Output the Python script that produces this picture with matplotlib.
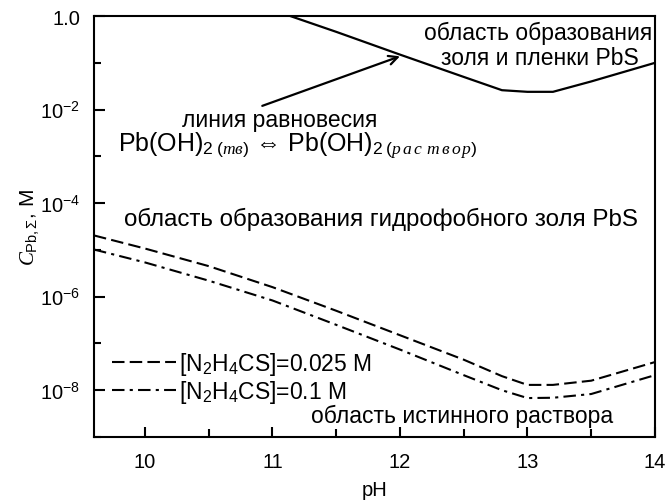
import matplotlib
matplotlib.use("Agg")
import matplotlib.pyplot as plt
from matplotlib.ticker import FixedLocator, FixedFormatter

plt.rcParams['font.family'] = ['Liberation Sans', 'DejaVu Sans']
plt.rcParams['mathtext.fontset'] = 'custom'
plt.rcParams['mathtext.rm'] = 'Liberation Sans'
plt.rcParams['mathtext.it'] = 'Liberation Serif:italic'
plt.rcParams['mathtext.bf'] = 'Liberation Sans:bold'

# pH grid and total lead concentration, M
ph = [9.6, 10.0, 10.5, 11.0, 11.5, 12.0, 12.5, 12.8, 13.0, 13.2, 13.5, 14.0]
c_tu_0025 = [2.04e-5, 1.07e-5, 4.5e-6, 1.6e-6, 5.0e-7, 1.5e-7, 4.5e-8, 2.0e-8,
             1.3e-8, 1.3e-8, 1.6e-8, 4.0e-8]
c_tu_01 = [1.02e-5, 5.4e-6, 2.2e-6, 8.3e-7, 2.5e-7, 7.4e-8, 2.1e-8, 1.0e-8,
           6.8e-9, 6.9e-9, 8.3e-9, 2.1e-8]

# Pb(OH)2 solid / solution equilibrium line
ph_eq = [11.14, 11.5, 12.0, 12.5, 12.8, 13.0, 13.2, 13.5, 14.0]
c_eq = [1.0, 0.46, 0.15, 0.05, 0.026, 0.024, 0.024, 0.040, 0.1]

legend_labels = ['[N$_2$H$_4$CS]=0.025 M', '[N$_2$H$_4$CS]=0.1 M']
ytick_vals = [1e-8, 1e-6, 1e-4, 1e-2, 1.0]
ytick_text = ['10$^{-8}$', '10$^{-6}$', '10$^{-4}$', '10$^{-2}$', '1.0']
xtick_vals = [10, 11, 12, 13, 14]

fig = plt.figure(figsize=(6.69, 5.02), dpi=100)
ax = fig.add_axes([0.1405, 0.1275, 0.8385, 0.8385])

ax.plot(ph, c_tu_0025, color='black', lw=1.5, dashes=(6, 2.5), label=legend_labels[0])
ax.plot(ph, c_tu_01, color='black', lw=1.5, dashes=(6, 2.5, 1.5, 2.5), label=legend_labels[1])
ax.plot(ph_eq, c_eq, color='black', lw=1.6)

ax.set_yscale('log')
ax.set_xlim(9.6, 14)
ax.set_ylim(1e-9, 1.0)

ax.yaxis.set_major_locator(FixedLocator(ytick_vals))
ax.yaxis.set_major_formatter(FixedFormatter(ytick_text))
ax.yaxis.set_minor_locator(FixedLocator([1e-9, 1e-7, 1e-5, 1e-3, 1e-1]))
ax.yaxis.set_minor_formatter(FixedFormatter([]))
ax.xaxis.set_major_locator(FixedLocator(xtick_vals))
ax.xaxis.set_minor_locator(FixedLocator([10.5, 11.5, 12.5, 13.5]))

ax.tick_params(axis='both', which='both', direction='in', width=1.5, labelsize=14.5)
ax.tick_params(axis='y', which='major', length=8, pad=10)
ax.tick_params(axis='y', which='minor', length=5)
ax.tick_params(axis='x', which='major', length=7, pad=11)
ax.tick_params(axis='x', which='minor', length=6)
for s in ax.spines.values():
    s.set_linewidth(1.5)

ax.set_xlabel('pH', fontsize=14.5, labelpad=6)
ax.set_ylabel(r'$C_{\mathrm{Pb},\Sigma}$, M', fontsize=15, labelpad=-1)

# region labels
ax.text(13.08, 10**-0.48, 'область образования', fontsize=16.5, ha='center', va='baseline')
ax.text(13.1, 10**-1.02, 'золя и пленки PbS', fontsize=16.5, ha='center', va='baseline')
ax.text(11.06, 10**-2.345, 'линия равновесия', fontsize=16.5, ha='center', va='baseline')
ax.text(9.79, 10**-2.90,
        r'Pb(OH)$_{2\;(\mathit{тв})}$ ⇔ Pb(OH)$_{2\;(\mathit{р\,а\,с\;\,т\,в\,о\,р})}$',
        fontsize=18, ha='left', va='baseline')
ax.text(11.85, 10**-4.47, 'область образования гидрофобного золя PbS', fontsize=17.4,
        ha='center', va='baseline')
ax.text(12.49, 10**-8.68, 'область истинного раствора', fontsize=16.5,
        ha='center', va='baseline')

ax.annotate('', xy=(12.0, 10**-0.86), xytext=(10.92, 10**-1.92),
            arrowprops=dict(arrowstyle='->', color='black', lw=1.6,
                            mutation_scale=16, shrinkA=0, shrinkB=0))

ax.legend(loc='lower left', bbox_to_anchor=(0.0, 0.033), frameon=False, fontsize=16.5,
          handlelength=2.8, handletextpad=0.1, labelspacing=0.03, borderpad=0.3)

fig.savefig('out.png', dpi=100)
